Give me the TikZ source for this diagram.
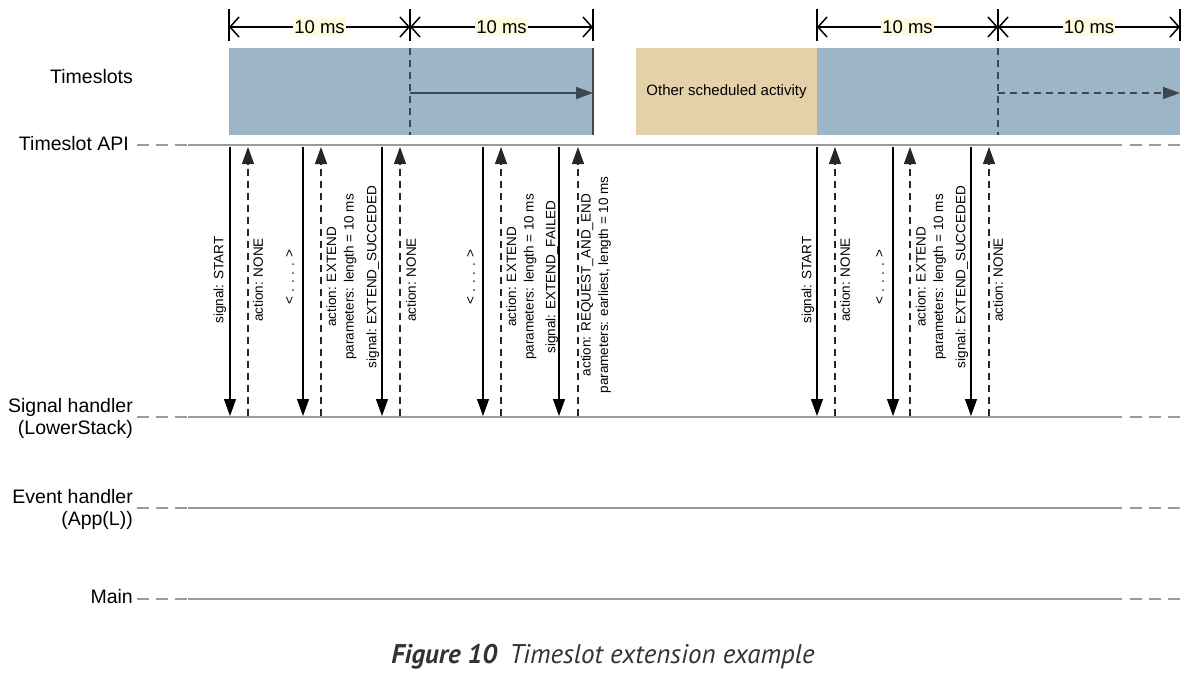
\documentclass[tikz,border=0pt]{standalone}
\usepackage{fontspec}
\setmainfont{Liberation Sans}
\newfontfamily\capfont{PT Sans}
\usetikzlibrary{arrows.meta}
\definecolor{slotblue}{HTML}{9CB5C7}
\definecolor{slottan}{HTML}{E5D1A9}
\definecolor{lifegray}{HTML}{A39A8E}
\definecolor{msfill}{HTML}{FFFBDC}
\definecolor{capgray}{HTML}{333333}
\definecolor{boxline}{HTML}{3E4650}
\begin{document}
\begin{tikzpicture}[x=1pt,y=-1pt,
  lbl/.style={font=\fontsize{19.5}{22}\selectfont, inner sep=0pt, align=right},
  lifeline/.style={draw=lifegray, line width=2pt},
  lifedash/.style={draw=lifegray, line width=2pt, dash pattern=on 12pt off 7pt},
  sig/.style={draw=black, line width=1.1pt, -{Triangle[length=17pt,width=12pt]}},
  act/.style={draw=black!85, line width=1.1pt, dash pattern=on 7pt off 5pt, -{Triangle[length=17pt,width=12pt]}},
  vlbl/.style={rotate=90, font=\fontsize{13.5}{17.5}\selectfont, align=center, inner sep=0pt},
  dimline/.style={draw=black, line width=1.5pt, {Straight Barb[length=9pt,width=20pt,line width=1.5pt]}-{Straight Barb[length=9pt,width=20pt,line width=1.5pt]}},
  tick/.style={draw=black, line width=1.5pt},
  mslbl/.style={fill=msfill, font=\fontsize{18.5}{21}\selectfont, inner xsep=1pt, inner ysep=2pt},
  slot/.style={fill=slotblue, draw=none},
  other/.style={fill=slottan, draw=none},
  boxdash/.style={draw=boxline, line width=1.3pt, dash pattern=on 7pt off 5pt},
  boxarrow/.style={draw=boxline, line width=1.5pt, -{Triangle[length=17pt,width=12pt]}},
]
\useasboundingbox (0,0) rectangle (1187,677);

% ---------- time slots ----------
\fill[slot] (229,48) rectangle (593,135);
\fill[other] (636,48) rectangle (817,135);
\fill[slot] (817,48) rectangle (1180,135);
\node[font=\fontsize{15}{18}\selectfont, inner sep=0pt] (other) at (726.5,92) {Other scheduled activity};

\coordinate (b1t) at (410,48); \coordinate (b1b) at (410,135);
\coordinate (b1m) at (410,93); \coordinate (b1e) at (593,93);
\coordinate (b1rt) at (593,48); \coordinate (b1rb) at (593,135);
\draw[boxdash] (b1t) -- (b1b);
\draw[boxarrow] (b1m) -- (b1e);
\draw[draw=boxline, line width=1.5pt] (b1rt) -- (b1rb);

\coordinate (b2t) at (998,48); \coordinate (b2b) at (998,135);
\coordinate (b2m) at (998,93); \coordinate (b2e) at (1180,93);
\draw[boxdash] (b2t) -- (b2b);
\draw[boxdash, -{Triangle[length=17pt,width=12pt]}] (b2m) -- (b2e);

% ---------- dimension arrows ----------
\foreach \n/\x in {t1/229,t2/410,t3/593,t4/817,t5/998,t6/1180}{
  \coordinate (\n a) at (\x,9);
  \coordinate (\n b) at (\x,41);
  \coordinate (\n) at (\x,27);
  \draw[tick] (\n a) -- (\n b);
}
\draw[dimline] (t1) -- node[mslbl] (ms1) {10 ms} (t2);
\draw[dimline] (t2) -- node[mslbl] (ms2) {10 ms} (t3);
\draw[dimline] (t4) -- node[mslbl] (ms3) {10 ms} (t5);
\draw[dimline] (t5) -- node[mslbl] (ms4) {10 ms} (t6);

% ---------- lifelines ----------
\node[lbl] (lts) at (91.5,77) {Timeslots};
\node[lbl, anchor=east] (lapi) at (129,144) {Timeslot API};
\node[lbl, anchor=east] (lsig) at (133,418) {Signal handler\\(LowerStack)};
\node[lbl, anchor=east] (levt) at (133,509) {Event handler\\(App(L))};
\node[lbl, anchor=east] (lmain) at (133,597) {Main};

\foreach \n/\y in {api/145,sh/417,eh/508,mn/599}{
  \coordinate (\n L) at (137,\y);
  \coordinate (\n A) at (187,\y);
  \coordinate (\n B) at (188,\y);
  \coordinate (\n C) at (1122,\y);
  \coordinate (\n D) at (1130,\y);
  \coordinate (\n R) at (1180,\y);
  \draw[lifedash] (\n L) -- (\n A);
  \draw[lifeline] (\n B) -- (\n C);
  \draw[lifedash] (\n D) -- (\n R);
}

% ---------- messages ----------
\foreach \i/\x in {1/230,2/248,3/303,4/321,5/382,6/400,7/483,8/501,9/559,10/578,11/817,12/835,13/893,14/910,15/971,16/989}{
  \coordinate (m\i t) at (\x,147);
  \coordinate (m\i b) at (\x,416);
}
% signals (down), actions (up)
\foreach \i in {1,3,5,7,9,11,13,15}{ \draw[sig] (m\i t) -- (m\i b); }
\foreach \i in {2,4,6,8,10,12,14,16}{ \draw[act] (m\i b) -- (m\i t); }

\node[vlbl] (l1) at (220,280) {signal: START};
\node[vlbl] (l2) at (258,280) {action: NONE};
\node[vlbl] (l3) at (290,277) {< . . . . >};
\node[vlbl] (l4) at (341.5,277) {action: EXTEND\\parameters: length = 10 ms};
\node[vlbl] (l5) at (373,277) {signal: EXTEND\_SUCCEDED};
\node[vlbl] (l6) at (411,280) {action: NONE};
\node[vlbl] (l7) at (471,277) {< . . . . >};
\node[vlbl] (l8) at (521.5,277) {action: EXTEND\\parameters: length = 10 ms};
\node[vlbl] (l9) at (552,277) {signal: EXTEND\_FAILED};
\node[vlbl] (l10) at (596,285) {action: REQUEST\_AND\_END\\parameters: earliest, length = 10 ms};
\node[vlbl] (l11) at (808,280) {signal: START};
\node[vlbl] (l12) at (845,280) {action: NONE};
\node[vlbl] (l13) at (880,277) {< . . . . >};
\node[vlbl] (l14) at (931,277) {action: EXTEND\\parameters: length = 10 ms};
\node[vlbl] (l15) at (962,277) {signal: EXTEND\_SUCCEDED};
\node[vlbl] (l16) at (998,280) {action: NONE};

% ---------- caption ----------
\node[font=\capfont\fontsize{27}{31}\selectfont, text=capgray, inner sep=0pt] (cap) at (603,657)
  {\textbf{\textit{Figure 10}}\hspace{0.45em}\textit{Timeslot extension example}};
\end{tikzpicture}
\end{document}
